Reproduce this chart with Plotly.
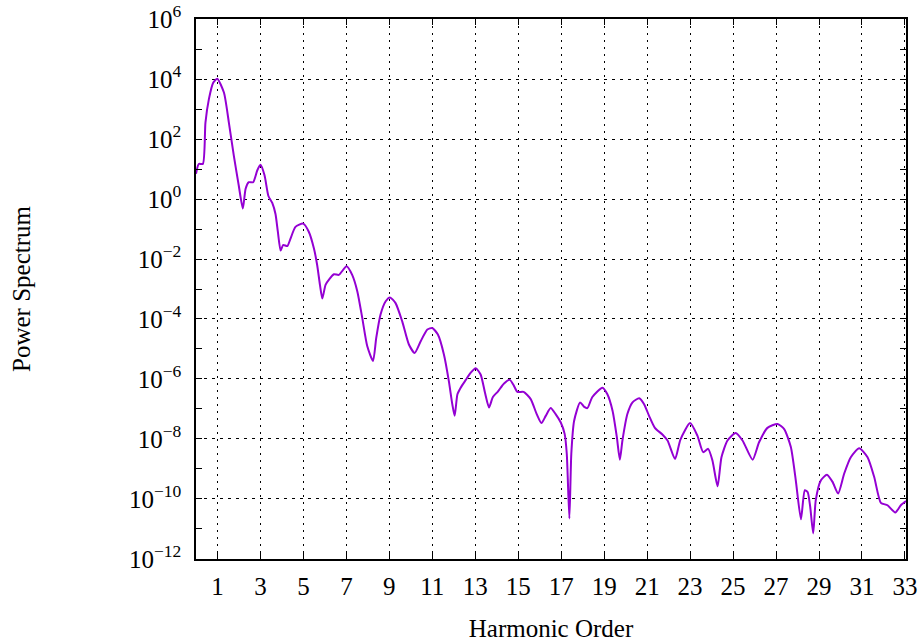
import plotly.graph_objects as go

harmonic_order = [
    0.00, 0.13, 0.32, 0.44, 0.60, 0.80, 0.99, 1.30, 1.53, 1.76, 1.99, 2.18, 2.31, 2.46, 2.66, 2.85,
    3.00, 3.19, 3.37, 3.55, 3.70, 3.81, 3.94, 4.06, 4.25, 4.40, 4.63, 4.99, 5.25, 5.49, 5.64,
    5.77, 5.88, 6.03, 6.19, 6.42, 6.65, 7.01, 7.27, 7.51, 7.74, 7.97, 8.24, 8.39, 8.59, 8.83,
    9.03, 9.29, 9.60, 9.91, 10.18, 10.46, 10.77, 11.00, 11.26, 11.54, 11.77, 11.93, 12.04, 12.17,
    12.32, 12.55, 12.79, 13.02, 13.25, 13.45, 13.64, 13.82, 14.05, 14.34, 14.61, 14.80, 14.96,
    15.25, 15.58, 15.86, 16.08, 16.28, 16.51, 16.74, 16.98, 17.16, 17.26, 17.38, 17.47, 17.60,
    17.88, 18.07, 18.22, 18.45, 18.92, 19.15, 19.39, 19.59, 19.73, 19.85, 20.08, 20.32, 20.63,
    20.86, 21.09, 21.36, 21.71, 21.95, 22.30, 22.55, 23.00, 23.34, 23.61, 23.84, 24.04, 24.28,
    24.46, 24.74, 25.12, 25.44, 25.91, 26.21, 26.60, 27.07, 27.38, 27.69, 27.92, 28.16, 28.34,
    28.47, 28.59, 28.73, 28.85, 29.09, 29.37, 29.63, 29.89, 30.17, 30.48, 30.87, 31.26, 31.57,
    31.88, 32.19, 32.55, 32.81, 33.05,
]
power_exponent = [
    0.84, 1.17, 1.17, 2.55, 3.33, 3.88, 4.01, 3.55, 2.55, 1.45, 0.45, -0.32, 0.34, 0.56, 0.56, 0.95,
    1.14, 0.79, 0.10, -0.13, -0.50, -1.09, -1.72, -1.53, -1.57, -1.32, -0.93, -0.82, -1.09, -1.65, -2.20,
    -2.86, -3.32, -2.86, -2.69, -2.51, -2.53, -2.24, -2.53, -3.08, -3.97, -4.90, -5.40, -4.63, -3.85, -3.41,
    -3.28, -3.47, -4.08, -4.85, -5.13, -4.74, -4.35, -4.30, -4.52, -5.18, -6.07, -6.84, -7.23, -6.51,
    -6.29, -6.04, -5.79, -5.64, -5.85, -6.45, -6.95, -6.60, -6.42, -6.15, -6.03, -6.23, -6.43,
    -6.43, -6.67, -7.17, -7.47, -7.23, -6.97, -7.17, -7.45, -7.83, -8.50, -10.65, -8.50, -7.40,
    -6.78, -6.93, -6.97, -6.60, -6.29, -6.51, -7.06, -7.94, -8.69, -8.05, -7.17, -6.78, -6.64,
    -6.84, -7.23, -7.63, -7.85, -8.05, -8.67, -8.02, -7.47, -7.89, -8.44, -8.33, -8.72, -9.58,
    -8.61, -8.05, -7.80, -8.05, -8.69, -8.11, -7.63, -7.50, -7.67, -8.27, -9.38, -10.68, -9.71,
    -9.77, -10.26, -11.15, -10.04, -9.38, -9.19, -9.43, -9.82, -9.16, -8.61, -8.31, -8.61, -9.27,
    -10.13, -10.21, -10.45, -10.21, -10.07,
]
power = [10 ** e for e in power_exponent]

x_ticks = list(range(1, 34, 2))
y_major = [1e-12, 1e-10, 1e-8, 1e-6, 1e-4, 1e-2, 1e0, 1e2, 1e4, 1e6]
y_major_text = ["10<sup>−12</sup>", "10<sup>−10</sup>", "10<sup>−8</sup>", "10<sup>−6</sup>",
                "10<sup>−4</sup>", "10<sup>−2</sup>", "10<sup>0</sup>", "10<sup>2</sup>",
                "10<sup>4</sup>", "10<sup>6</sup>"]
y_minor = [1e-11, 1e-9, 1e-7, 1e-5, 1e-3, 1e-1, 1e1, 1e3, 1e5]

FONT = "Liberation Serif"

fig = go.Figure()
fig.add_trace(go.Scatter(
    x=harmonic_order, y=power, mode="lines",
    line=dict(color="#9400D3", width=2, shape="spline", smoothing=0.6),
    showlegend=False,
))

fig.update_layout(
    width=920, height=642,
    margin=dict(l=196, r=14, t=19, b=83),
    paper_bgcolor="white", plot_bgcolor="white",
    font=dict(family=FONT, size=25, color="black"),
)
fig.update_xaxes(
    range=[0, 33.05], tickmode="array", tickvals=x_ticks, ticktext=[str(v) for v in x_ticks],
    ticks="inside", ticklen=6, tickcolor="black", tickwidth=1,
    showline=True, linecolor="black", linewidth=1.5, mirror="ticks",
    showgrid=True, gridcolor="black", gridwidth=1, griddash="2px,5px",
    zeroline=False, ticklabelstandoff=4, automargin=False, ticklabeloverflow="allow",
    title=dict(text="Harmonic Order", standoff=30, font=dict(family=FONT, size=25)),
)
fig.update_yaxes(
    type="log", range=[-12.002, 6.002], tickmode="array", tickvals=y_major, ticktext=y_major_text,
    ticks="inside", ticklen=6, tickcolor="black", tickwidth=1,
    showline=True, linecolor="black", linewidth=1.5, mirror="ticks",
    showgrid=True, gridcolor="black", gridwidth=1, griddash="3px,5px",
    zeroline=False, ticklabelstandoff=8, automargin=False, ticklabeloverflow="allow",
    minor=dict(tickmode="array", tickvals=y_minor, ticks="inside", ticklen=6,
               tickcolor="black", showgrid=False),
    title=dict(text="Power Spectrum", standoff=91, font=dict(family=FONT, size=25)),
)

fig.write_html("out.html")
